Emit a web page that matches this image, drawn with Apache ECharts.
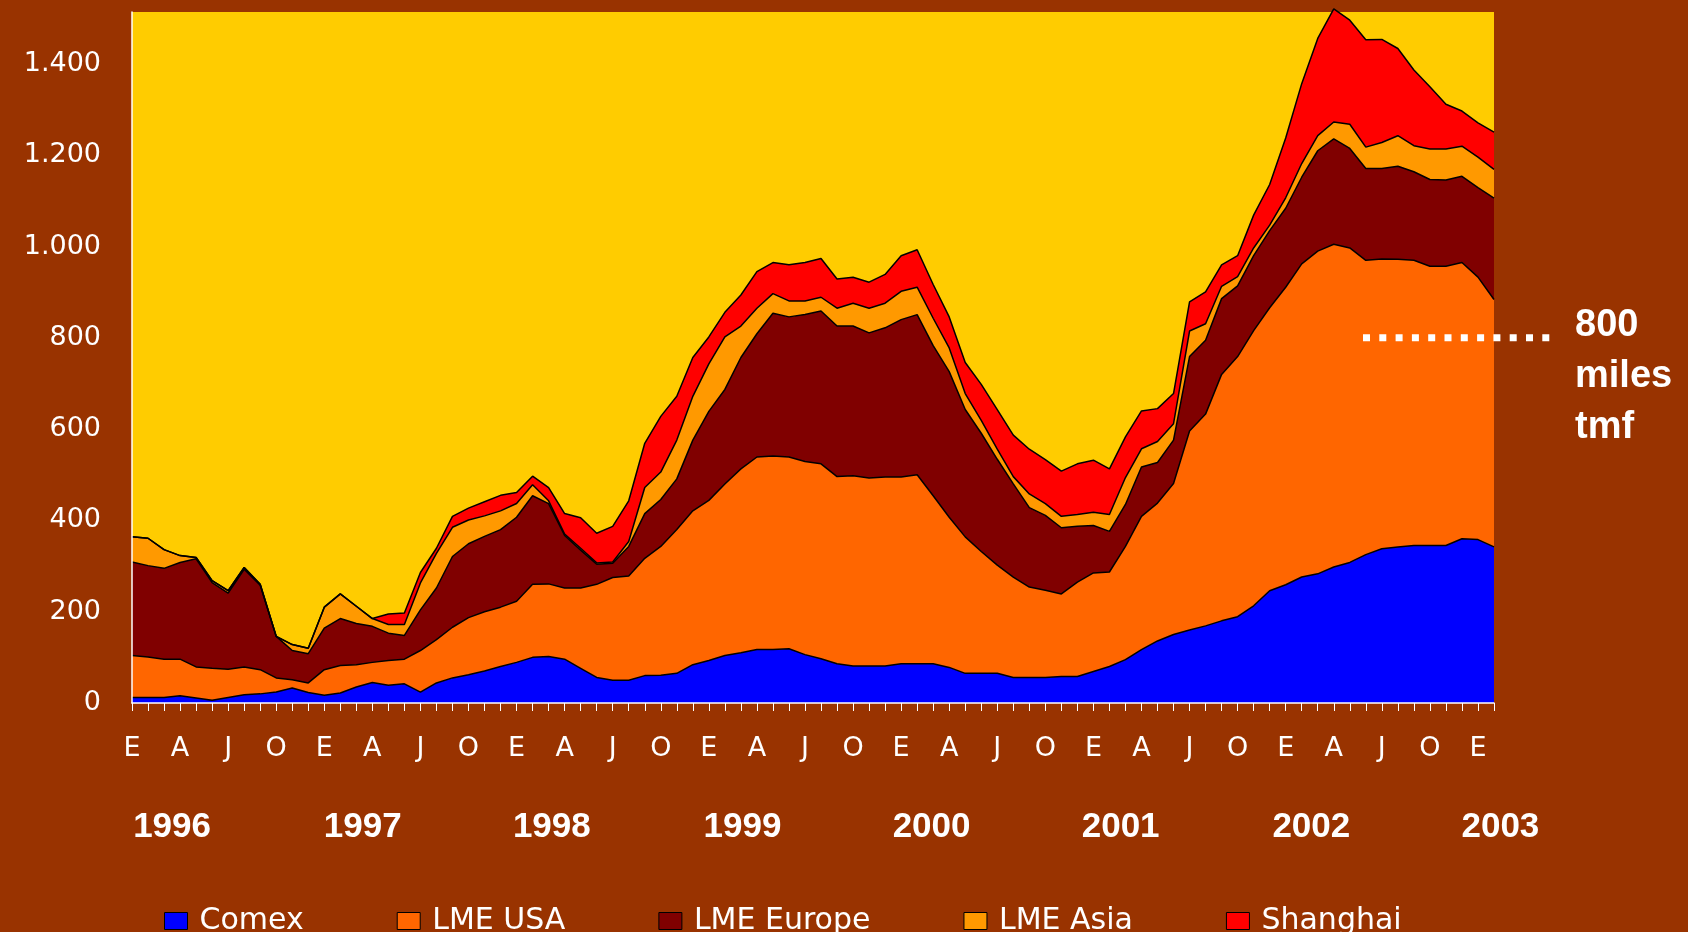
<!DOCTYPE html>
<html>
<head>
<meta charset="utf-8">
<script src="https://cdn.jsdelivr.net/npm/echarts@6/dist/echarts.min.js"></script>
<style>
html,body{margin:0;padding:0;background:#993300;}
#main{width:1688px;height:932px;}
</style>
</head>
<body>
<div id="main"></div>
<script>
// meses en español, de enero 1996 a febrero 2003
var monthLetters = ['E','F','M','A','M','J','J','A','S','O','N','D'];
var firstYear = 1996;
var monthCount = 86;
var years = ['1996','1997','1998','1999','2000','2001','2002','2003'];
// posicion de cada año, en meses desde enero 1996
var yearPos = [2.5, 14.4, 26.2, 38.1, 49.9, 61.7, 73.6, 85.4];
var yTicks = [0, 200, 400, 600, 800, 1000, 1200, 1400];

var seriesNames = ['Comex','LME USA','LME Europe','LME Asia','Shanghai'];
var seriesColors = ['#0000FF','#FF6600','#800000','#FF9900','#FF0000'];

var comex = [12,12,12,16,11,6,12,18,20,24,
	33,23,17,22,35,45,39,42,24,44,
	55,62,70,80,89,100,102,96,76,56,
	50,50,60,61,65,84,93,104,110,117,
	117,119,106,97,86,81,81,81,86,86,
	86,78,65,65,65,56,56,56,58,58,
	69,80,95,117,136,150,160,169,180,189,
	213,246,259,276,283,298,308,325,338,342,
	345,345,345,360,358,342];
var lmeUsa = [92,89,84,80,68,70,62,61,53,31,
	18,21,56,60,49,44,54,54,91,95,
	111,125,130,130,134,160,159,156,176,204,
	225,228,257,282,315,337,351,376,403,422,
	424,420,423,427,410,417,412,414,409,414,
	368,329,299,267,237,220,198,191,181,207,
	216,207,248,292,302,331,436,464,540,570,
	603,620,652,686,707,707,689,645,635,630,
	625,612,612,605,575,542];
var lmeEurope = [205,200,199,212,237,188,167,214,185,91,
	64,64,91,103,90,79,60,52,89,113,
	155,162,165,170,184,194,176,115,83,44,
	31,65,98,103,111,155,195,207,244,270,
	313,307,322,335,330,328,318,327,345,351,
	329,319,279,259,232,204,174,164,145,122,
	104,89,92,108,89,95,163,162,166,155,
	164,169,173,190,220,231,218,201,198,204,
	194,190,189,189,196,222];
var lmeAsia = [55,60,41,15,3,4,5,4,2,0,
	13,12,46,54,38,17,19,24,59,76,
	64,52,45,41,30,24,6,3,4,3,
	3,11,57,60,85,96,104,115,69,56,
	43,35,30,30,39,50,54,54,62,60,
	60,52,35,28,22,16,30,26,25,26,
	29,37,59,40,46,36,56,36,27,20,
	17,12,23,30,33,37,53,47,57,67,
	57,67,68,66,67,63];
var shanghai = [0,0,0,0,0,0,0,0,0,0,
	0,0,0,0,0,0,23,25,23,11,
	24,26,31,34,24,19,29,45,67,65,
	78,89,97,122,96,85,59,54,68,80,
	68,79,84,85,64,57,57,63,78,82,
	74,68,68,79,87,91,98,96,99,111,
	114,100,89,83,72,66,64,70,47,46,
	72,89,131,175,213,248,228,235,226,191,
	166,136,98,77,75,82];

var Chart = {
	months: [],
	init: function () {
		for (var i = 0; i < monthCount; i++) {
			this.months.push(monthLetters[i % 12]);
		}
		this.chart = echarts.init(document.getElementById('main'));
		this.draw();
		this.labels();
	},
	thousands: function (v) {
		if (v < 1000) return String(v);
		var r = String(v % 1000);
		while (r.length < 3) r = '0' + r;
		return Math.floor(v / 1000) + '.' + r;
	},
	draw: function () {
		var that = this;
		var allData = [comex, lmeUsa, lmeEurope, lmeAsia, shanghai];
		var series = [];
		for (var s = 0; s < seriesNames.length; s++) {
			series.push({
				name: seriesNames[s],
				type: 'line',
				stack: 'total',
				data: allData[s],
				symbol: 'none',
				clip: false,
				lineStyle: {color: '#000', width: 1.5},
				itemStyle: {color: seriesColors[s]},
				areaStyle: {color: seriesColors[s], opacity: 1},
				emphasis: {disabled: true}
			});
		}
		var option = {
			backgroundColor: '#993300',
			animation: false,
			grid: {
				left: 132, right: 194, top: 12, bottom: 229,
				show: true, backgroundColor: '#FFCC00', borderWidth: 0
			},
			legend: {
				left: 159, top: 901,
				icon: 'rect',
				itemWidth: 23, itemHeight: 17, itemGap: 93,
				itemStyle: {borderColor: '#000', borderWidth: 1},
				textStyle: {color: '#fff', fontFamily: 'DejaVu Sans', fontSize: 30, padding: [0, 0, 0, 7]},
				data: seriesNames
			},
			xAxis: {
				type: 'category',
				boundaryGap: false,
				data: that.months,
				z: 5,
				axisLine: {lineStyle: {color: '#fff', width: 1.5}},
				axisTick: {interval: 0, length: 8, lineStyle: {color: '#fff', width: 1}},
				axisLabel: {interval: 2, color: '#fff', fontFamily: 'DejaVu Sans', fontSize: 27, margin: 32},
				splitLine: {show: false}
			},
			yAxis: {
				type: 'value',
				min: 0,
				max: 1514,
				interval: 200,
				z: 5,
				axisLine: {show: true, lineStyle: {color: '#fff', width: 1.5}},
				axisTick: {show: false},
				splitLine: {show: false},
				axisLabel: {
					customValues: yTicks,
					color: '#fff', fontFamily: 'DejaVu Sans', fontSize: 27, margin: 31,
					formatter: function (v) { return that.thousands(v); }
				}
			},
			series: series
		};
		this.chart.setOption(option);
	},
	labels: function () {
		var c = this.chart;
		var x0 = c.convertToPixel({xAxisIndex: 0}, 0);
		var x1 = c.convertToPixel({xAxisIndex: 0}, monthCount - 1);
		var step = (x1 - x0) / (monthCount - 1);
		var y800 = c.convertToPixel({yAxisIndex: 0}, 800);
		var g = [];
		for (var i = 0; i < years.length; i++) {
			g.push({
				type: 'text',
				x: x0 + yearPos[i] * step,
				y: 827,
				z: 100,
				style: {
					text: years[i], fill: '#fff',
					fontFamily: 'Liberation Sans', fontWeight: 'bold', fontSize: 35,
					align: 'center', verticalAlign: 'middle'
				}
			});
		}
		// linea punteada hasta los 800
		g.push({
			type: 'line',
			z: 100,
			shape: {x1: 1363, y1: y800, x2: 1550, y2: y800},
			style: {stroke: '#fff', lineWidth: 7, lineDash: [7, 9.3]}
		});
		g.push({
			type: 'text',
			x: 1575,
			y: 300,
			z: 100,
			style: {
				text: '800\nmiles\ntmf', fill: '#fff',
				fontFamily: 'Liberation Sans', fontWeight: 'bold', fontSize: 38,
				lineHeight: 51, align: 'left', verticalAlign: 'top'
			}
		});
		c.setOption({graphic: g});
	}
};

Chart.init();
</script>
</body>
</html>
